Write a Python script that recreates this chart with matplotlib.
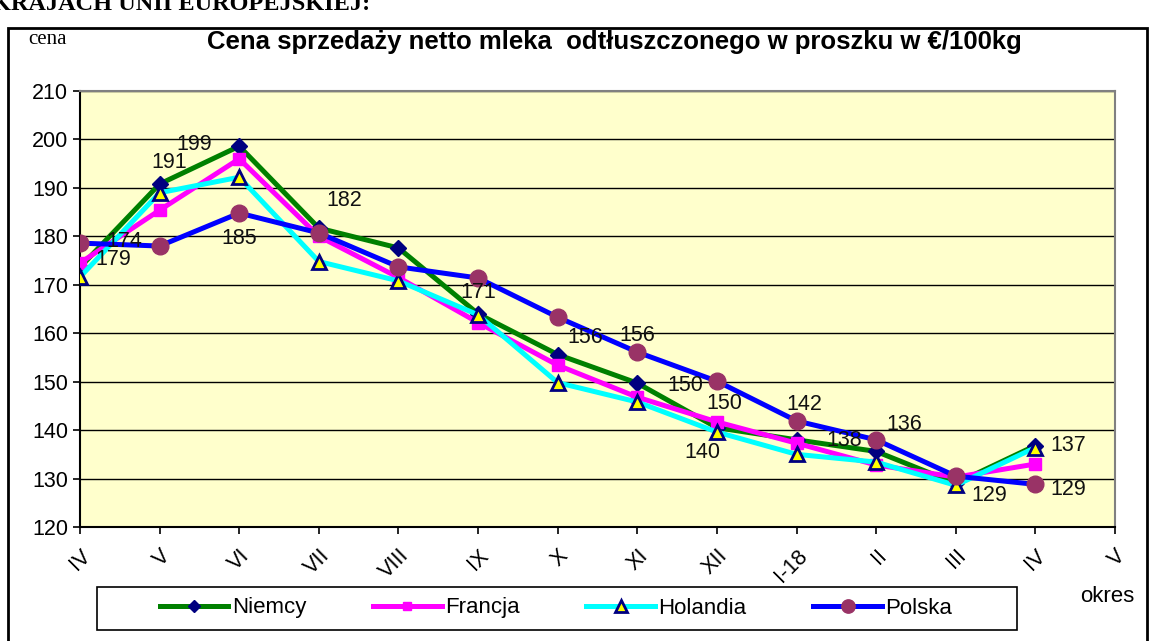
import matplotlib.pyplot as plt
from matplotlib.patches import Rectangle

plt.rcParams['font.family'] = ['Liberation Sans', 'DejaVu Sans']

# okresy (miesiace)
months = ['IV', 'V', 'VI', 'VII', 'VIII', 'IX', 'X', 'XI', 'XII', 'I-18', 'II', 'III', 'IV', 'V']

# ceny w EUR/100kg
niemcy = [173.6, 190.8, 198.6, 181.7, 177.6, 164.0, 155.6, 149.7, 140.5, 138.0, 135.6, 129.0, 136.8]
francja = [174.5, 185.4, 196.0, 180.0, 171.5, 162.2, 153.4, 146.8, 141.7, 137.3, 132.8, 130.3, 133.0]
holandia = [171.6, 189.0, 192.2, 174.8, 170.8, 163.8, 149.8, 145.8, 139.6, 135.0, 133.4, 128.6, 136.4]
polska = [178.6, 178.0, 184.8, 180.7, 173.7, 171.4, 163.3, 156.1, 150.1, 141.9, 138.0, 130.5, 128.8]

# etykiety wartosci: (seria, indeks, przesuniecie w px)
labels = [
    ('niemcy', 0, 44, 26), ('polska', 0, 33, -16),
    ('niemcy', 1, 10, 22), ('niemcy', 2, -45, 2),
    ('polska', 2, 0, -25), ('niemcy', 3, 25, 28),
    ('polska', 5, 0, -15), ('niemcy', 6, 28, 17),
    ('polska', 7, 0, 17), ('polska', 8, -32, -4),
    ('niemcy', 7, 87, -20), ('holandia', 8, -15, -20),
    ('polska', 9, 8, 16), ('niemcy', 9, 48, -1),
    ('niemcy', 10, 28, 27), ('holandia', 11, 33, -10),
    ('niemcy', 12, 33, 0), ('polska', 12, 33, -5),
]

fig = plt.figure(figsize=(11.5, 6.41), dpi=100)
ax = fig.add_axes([80 / 1150, 1 - 527 / 641, 1035 / 1150, 436 / 641])
ax.set_facecolor('#FFFFCC')

x = list(range(len(niemcy)))
series = {'niemcy': niemcy, 'francja': francja, 'holandia': holandia, 'polska': polska}

ax.plot(x, niemcy, color='#008000', lw=3.6, marker='D', ms=8,
        mfc='#000080', mec='#000080', label='Niemcy', zorder=3)
ax.plot(x, francja, color='#FF00FF', lw=3.6, marker='s', ms=8,
        mfc='#FF00FF', mec='#FF00FF', label='Francja', zorder=3)
ax.plot(x, holandia, color='#00FFFF', lw=3.6, marker='^', ms=10,
        mfc='#FFFF00', mec='#000080', mew=2, label='Holandia', zorder=3)
ax.plot(x, polska, color='#0000FF', lw=3.6, marker='o', ms=12,
        mfc='#993366', mec='#993366', label='Polska', zorder=4)

for name, i, dx, dy in labels:
    v = series[name][i]
    ax.annotate(f'{v:.0f}', (i, v), xytext=(dx, dy), textcoords='offset pixels',
                ha='center', va='center', fontsize=15.5, color='#111111', zorder=5)

ax.set_ylim(120, 210)
ax.set_yticks(range(120, 211, 10))
ax.set_xlim(0, len(months) - 1)
ax.set_xticks(range(len(months)))
ax.set_xticklabels(months, rotation=45, ha='right', va='top', rotation_mode='anchor')
ax.tick_params(axis='both', labelsize=15.5, direction='out', length=5, width=1.2, colors='black')
ax.tick_params(axis='x', pad=8)
ax.grid(axis='y', color='black', lw=1)
ax.set_axisbelow(True)
for s in ['left', 'bottom']:
    ax.spines[s].set_linewidth(1.5)
for s in ['top', 'right']:
    ax.spines[s].set_color('#808080')
    ax.spines[s].set_linewidth(1.5)

leg = ax.legend(loc='center', bbox_to_anchor=(556 / 1150, 1 - 608 / 641), bbox_transform=fig.transFigure,
                ncol=4, fontsize=16, frameon=False, handlelength=3.1, markerscale=0.8,
                handletextpad=0.15, columnspacing=3.0, borderpad=0.2)
fig.patches.append(Rectangle((97 / 1150, 1 - 630 / 641), 920 / 1150, 43 / 641, transform=fig.transFigure,
                             fill=False, edgecolor='black', lw=1.2))

fig.text(207 / 1150, 1 - 42 / 641, 'Cena sprzedaży netto mleka  odtłuszczonego w proszku w €/100kg',
         fontsize=18.5, fontweight='bold', ha='left', va='center')
fig.text(28 / 1150, 1 - 40 / 641, 'cena', fontsize=15, family='Liberation Serif', ha='left', va='center')
fig.text(1107 / 1150, 1 - 596 / 641, 'okres', fontsize=16, ha='center', va='center')
fig.text(-8 / 1150, 1 - 4 / 641, 'KRAJACH UNII EUROPEJSKIEJ:', fontsize=17.5, fontweight='bold',
         family='Liberation Serif', ha='left', va='center')

fig.patches.append(Rectangle((8 / 1150, -0.01), 1139 / 1150, 1 - 28 / 641 + 0.01, transform=fig.transFigure,
                             fill=False, edgecolor='black', lw=2))

fig.savefig('out.png', dpi=100)
